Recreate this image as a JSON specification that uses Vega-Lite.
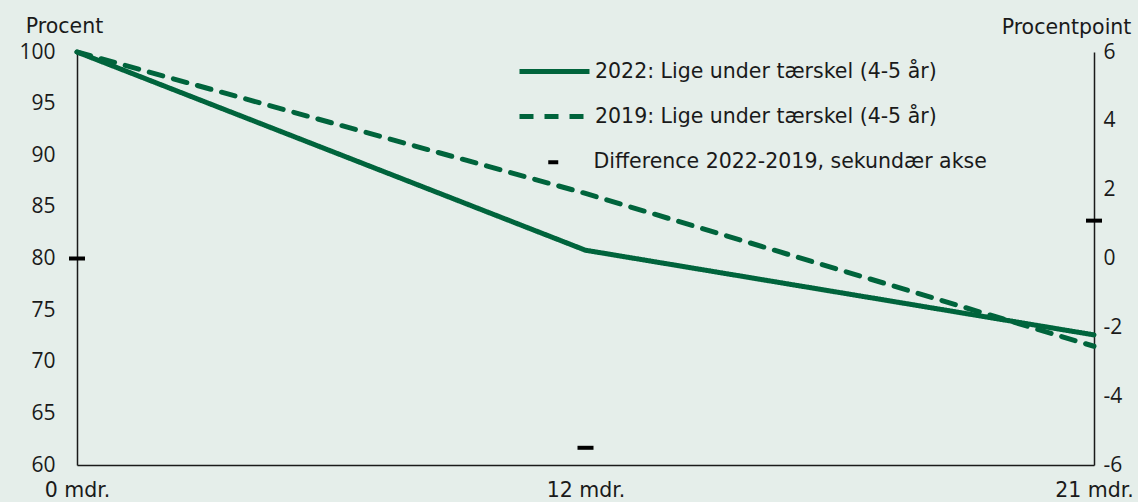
{
  "$schema": "https://vega.github.io/schema/vega-lite/v6.json",
  "autosize": {"type": "none"},
  "padding": {"left": 77, "top": 52, "right": 44, "bottom": 37},
  "width": 1017,
  "height": 413,
  "background": "#e5eeea",
  "config": {
    "view": {"stroke": null},
    "font": "DejaVu Sans",
    "locale": {"number": {"decimal": ",", "thousands": ".", "grouping": [3], "currency": ["", " kr."], "minus": "-"}},
    "axis": {"labelFont": "Open Sans", "labelFontSize": 21, "labelColor": "#1a1a1a", "titleFont": "DejaVu Sans", "titleFontSize": 20.5, "titleFontWeight": "normal", "titleColor": "#1a1a1a", "domainColor": "#1a1a1a", "domainWidth": 1.5, "ticks": false, "grid": false},
    "legend": {"labelFont": "DejaVu Sans", "labelFontSize": 20.5, "labelColor": "#1a1a1a", "labelLimit": 0}
  },
  "datasets": {
    "lines": [
      {"month": "0 mdr.", "series": "2022: Lige under tærskel (4-5 år)", "value": 100},
      {"month": "12 mdr.", "series": "2022: Lige under tærskel (4-5 år)", "value": 80.8},
      {"month": "21 mdr.", "series": "2022: Lige under tærskel (4-5 år)", "value": 72.6},
      {"month": "0 mdr.", "series": "2019: Lige under tærskel (4-5 år)", "value": 100},
      {"month": "12 mdr.", "series": "2019: Lige under tærskel (4-5 år)", "value": 86.3},
      {"month": "21 mdr.", "series": "2019: Lige under tærskel (4-5 år)", "value": 71.5}
    ],
    "diff": [
      {"month": "0 mdr.", "diff": 0},
      {"month": "12 mdr.", "diff": -5.5},
      {"month": "21 mdr.", "diff": 1.1}
    ]
  },
  "encoding": {
    "x": {
      "field": "month", "type": "nominal",
      "sort": ["0 mdr.", "12 mdr.", "21 mdr."],
      "scale": {"type": "point", "padding": 0},
      "axis": {"title": null, "labelAngle": 0, "labelPadding": 15, "labelFont": "DejaVu Sans", "labelFontSize": 20.5, "domain": true}
    }
  },
  "layer": [
    {
      "layer": [
        {
          "mark": {"type": "rule", "color": "#1a1a1a", "strokeWidth": 1.5},
          "encoding": {"y": {"datum": 80}, "x": null}
        },
        {
          "data": {"name": "lines"},
          "mark": {"type": "line", "color": "#00643c", "strokeWidth": 5, "strokeCap": "round"},
          "encoding": {
            "y": {
              "field": "value", "type": "quantitative",
              "scale": {"domain": [60, 100], "nice": false, "zero": false},
              "axis": {"orient": "left", "values": [60, 65, 70, 75, 80, 85, 90, 95, 100], "labelPadding": 22, "title": "Procent", "titleAngle": 0, "titleAlign": "center", "titleBaseline": "alphabetic", "titleX": -13, "titleY": -20}
            },
            "strokeDash": {
              "field": "series", "type": "nominal",
              "scale": {"domain": ["2022: Lige under tærskel (4-5 år)", "2019: Lige under tærskel (4-5 år)"], "range": [[1, 0], [14, 11]]},
              "legend": {"title": null, "orient": "none", "legendX": 465, "legendY": 7, "padding": 0, "symbolType": "M-3.5,0H3.5", "symbolSize": 400, "symbolStrokeWidth": 5, "symbolStrokeColor": "#00643c", "symbolFillColor": "transparent", "labelOffset": 28, "rowPadding": 22}
            }
          }
        }
      ]
    },
    {
      "data": {"name": "diff"},
      "mark": {"type": "tick", "thickness": 4, "size": 16, "opacity": 1},
      "encoding": {
        "y": {
          "field": "diff", "type": "quantitative",
          "scale": {"domain": [-6, 6], "nice": false, "zero": false},
          "axis": {"orient": "right", "values": [-6, -4, -2, 0, 2, 4, 6], "labelPadding": 9, "title": "Procentpoint", "titleAngle": 0, "titleAlign": "center", "titleBaseline": "alphabetic", "titleX": -28, "titleY": -19}
        },
        "color": {
          "datum": "Difference 2022-2019, sekundær akse",
          "scale": {"range": ["#000000"]},
          "legend": {"title": null, "orient": "none", "legendX": 466, "legendY": 100, "padding": 0, "symbolType": "M-1,-0.4H1V0.4H-1Z", "symbolSize": 100, "symbolOpacity": 1, "labelOffset": 30}
        }
      }
    }
  ],
  "resolve": {"scale": {"y": "independent", "color": "independent", "strokeDash": "independent"}}
}
